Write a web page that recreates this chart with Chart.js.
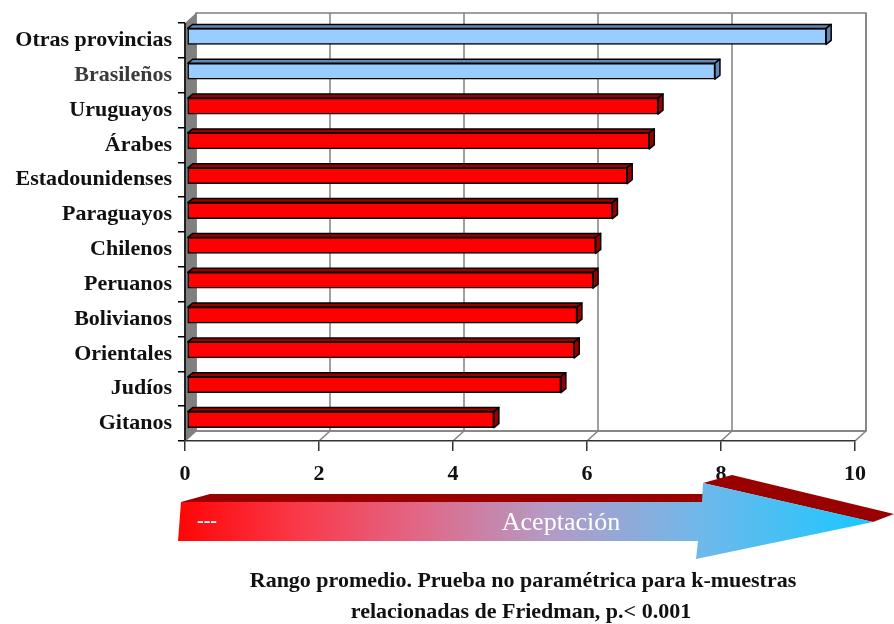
<!DOCTYPE html>
<html><head><meta charset="utf-8">
<script src="https://cdn.jsdelivr.net/npm/chart.js@4/dist/chart.umd.min.js"></script>
<style>
html,body{margin:0;padding:0;background:#fff;}
#wrap{position:relative;width:894px;height:624px;overflow:hidden;}
canvas{position:absolute;left:0;top:0;}
.t{position:absolute;font-family:'Liberation Serif',serif;white-space:nowrap;line-height:1;}
</style></head><body>
<div id="wrap">
<canvas id="c" width="894" height="624"></canvas>
<div class="t" id="dash" style="left:197px;top:510px;font-size:20px;color:#fff;font-weight:bold;">---</div>
<div class="t" id="acc" style="left:561px;top:509px;font-size:26px;color:#fff;transform:translateX(-50%);">Aceptación</div>
<div class="t" id="cap1" style="left:523px;top:569px;font-size:22px;font-weight:bold;color:#111;transform:translateX(-50%);">Rango promedio. Prueba no paramétrica para k-muestras</div>
<div class="t" id="cap2" style="left:521px;top:600px;font-size:22px;font-weight:bold;color:#111;transform:translateX(-50%);">relacionadas de Friedman, p.&lt; 0.001</div>
</div>
<script>
// ---- data ----
const categories = ['Otras provincias','Brasileños','Uruguayos','Árabes','Estadounidenses','Paraguayos','Chilenos','Peruanos','Bolivianos','Orientales','Judíos','Gitanos'];
const values = [9.54, 7.88, 7.03, 6.90, 6.57, 6.35, 6.10, 6.06, 5.82, 5.78, 5.58, 4.58];
const highlighted = ['Otras provincias','Brasileños'];
const xMin = 0, xMax = 10, xStep = 2;

// ---- styles ----
const FONT = "'Liberation Serif', serif";
const faceColors = categories.map(c => highlighted.includes(c) ? '#99ccff' : '#ff0000');
const sideColors = categories.map(c => highlighted.includes(c) ? '#6287b8' : '#990000');
const DEPTH = {dx: 11, dy: -10};   // wall depth
const BAR_DEPTH = {dx: 5, dy: -4}; // bar depth
const BAR_SHIFT = {dx: 2, dy: -4}; // bars sit inside the depth

function poly(ctx, pts){ ctx.beginPath(); ctx.moveTo(pts[0][0],pts[0][1]); for(let i=1;i<pts.length;i++) ctx.lineTo(pts[i][0],pts[i][1]); ctx.closePath(); }

const box3d = {
  id: 'box3d',
  beforeDraw(chart){
    const {ctx, chartArea: a, scales:{x}} = chart;
    const {dx, dy} = DEPTH;
    ctx.save();
    ctx.fillStyle = '#fff'; ctx.strokeStyle = '#808080'; ctx.lineWidth = 1.5;
    ctx.fillRect(a.left+dx, a.top+dy, a.right-a.left, a.bottom-a.top);
    ctx.strokeRect(a.left+dx, a.top+dy, a.right-a.left, a.bottom-a.top);
    for(let v = xMin; v <= xMax; v += xStep){
      const px = x.getPixelForValue(v);
      ctx.beginPath(); ctx.moveTo(px+dx, a.top+dy); ctx.lineTo(px+dx, a.bottom+dy); ctx.stroke();
      ctx.beginPath(); ctx.moveTo(px, a.bottom); ctx.lineTo(px+dx, a.bottom+dy); ctx.stroke();
    }
    ctx.beginPath(); ctx.moveTo(a.left+dx, a.bottom+dy); ctx.lineTo(a.right+dx, a.bottom+dy); ctx.stroke();
    ctx.fillStyle = '#808080';
    poly(ctx, [[a.left, a.top],[a.left+dx, a.top+dy],[a.left+dx, a.bottom+dy],[a.left, a.bottom]]);
    ctx.fill();
    ctx.strokeStyle = '#222'; ctx.lineWidth = 2;
    ctx.beginPath(); ctx.moveTo(a.left, a.top); ctx.lineTo(a.left, a.bottom); ctx.stroke();
    ctx.restore();
  },
  beforeDatasetsDraw(chart){
    chart.ctx.save();
    chart.ctx.translate(BAR_SHIFT.dx, BAR_SHIFT.dy);
  },
  afterDatasetsDraw(chart){
    const ctx = chart.ctx;
    const meta = chart.getDatasetMeta(0);
    const {dx, dy} = BAR_DEPTH;
    ctx.lineWidth = 1.5; ctx.strokeStyle = '#000'; ctx.lineJoin = 'round';
    meta.data.forEach((bar, i) => {
      const p = bar.getProps(['x','y','base','height'], true);
      const top = p.y - p.height/2, bot = p.y + p.height/2;
      ctx.fillStyle = sideColors[i];
      poly(ctx, [[p.base, top],[p.base+dx, top+dy],[p.x+dx, top+dy],[p.x, top]]);
      ctx.fill(); ctx.stroke();
      poly(ctx, [[p.x, top],[p.x+dx, top+dy],[p.x+dx, bot+dy],[p.x, bot]]);
      ctx.fill(); ctx.stroke();
    });
    ctx.restore();
  },
  afterDraw(chart){
    const ctx = chart.ctx;
    ctx.save();
    ctx.fillStyle = '#990000';
    poly(ctx, [[181,502],[210,494],[706,494],[702,502]]); ctx.fill();
    poly(ctx, [[703,483],[732,475],[894,514],[873,522]]); ctx.fill();
    const g = ctx.createLinearGradient(178,0,873,0);
    g.addColorStop(0, '#ff0505');
    g.addColorStop(0.17, '#fa3848');
    g.addColorStop(0.35, '#e06888');
    g.addColorStop(0.53, '#b49ac4');
    g.addColorStop(0.75, '#70b8ea');
    g.addColorStop(1, '#18c8ff');
    ctx.fillStyle = g;
    poly(ctx, [[181,502],[702,502],[703,483],[873,522],[696,559],[698,541],[178,541]]);
    ctx.fill();
    ctx.restore();
  }
};

new Chart(document.getElementById('c'), {
  type: 'bar',
  data: {
    labels: categories,
    datasets: [{
      data: values,
      backgroundColor: faceColors,
      borderColor: '#000',
      borderWidth: 1.5,
      borderSkipped: false,
      barThickness: 16
    }]
  },
  plugins: [box3d],
  options: {
    indexAxis: 'y',
    responsive: false,
    animation: false,
    devicePixelRatio: 1,
    layout: { padding: { top: 23, right: 39, left: 0, bottom: 133 } },
    plugins: { legend: { display: false }, tooltip: { enabled: false } },
    scales: {
      x: {
        min: xMin, max: xMax,
        ticks: { stepSize: xStep, color: '#111', padding: 10, font: { family: FONT, size: 22, weight: 'bold' } },
        grid: { drawOnChartArea: false, tickLength: 10, color: '#333', lineWidth: 1.5 },
        border: { display: true, color: '#333', width: 1.5 },
        afterFit(s){ s.height = 50; }
      },
      y: {
        ticks: { color: (c) => c.index === 1 ? '#3a3a3a' : '#111', padding: 6, font: { family: FONT, size: 22, weight: 'bold' } },
        grid: { drawOnChartArea: false, tickLength: 7, color: '#000', lineWidth: 1.5, offset: true },
        border: { display: false },
        afterFit(s){ s.width = 185; }
      }
    }
  }
});
</script>
</body></html>
